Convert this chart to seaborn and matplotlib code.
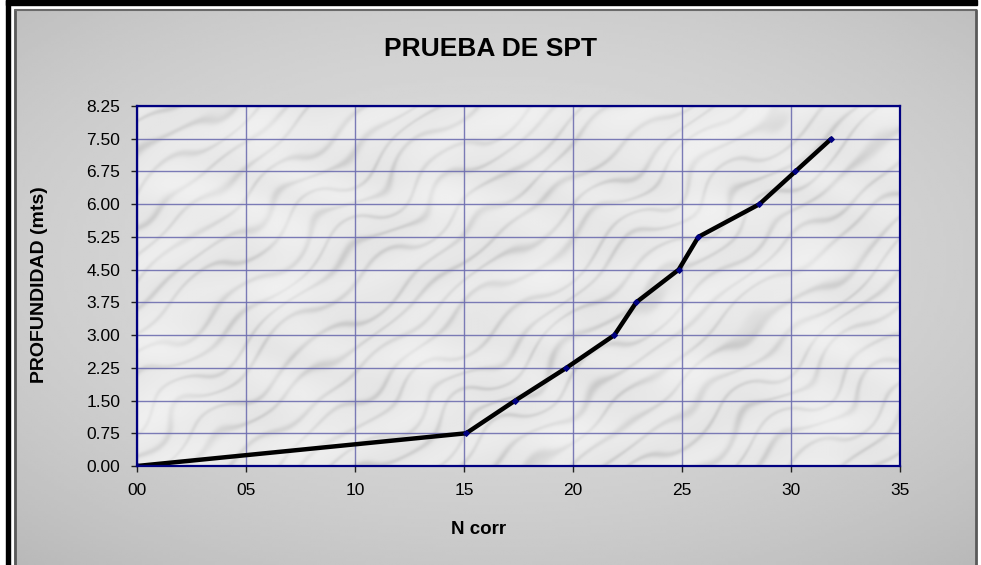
import numpy as np
import pandas as pd
import matplotlib
matplotlib.use("Agg")
import matplotlib.pyplot as plt
import seaborn as sns
from matplotlib.patches import Rectangle

# ---- data ----
n_corr = [0.0, 15.1, 17.35, 19.7, 21.9, 22.9, 24.85, 25.75, 28.55, 30.2, 31.85]
depth = [0.0, 0.75, 1.5, 2.25, 3.0, 3.75, 4.5, 5.25, 6.0, 6.75, 7.5]
x_ticks = [0, 5, 10, 15, 20, 25, 30, 35]
x_tick_labels = ["00", "05", "10", "15", "20", "25", "30", "35"]
y_ticks = [0.0, 0.75, 1.5, 2.25, 3.0, 3.75, 4.5, 5.25, 6.0, 6.75, 7.5, 8.25]
y_tick_labels = ["%.2f" % v for v in y_ticks]
title = "PRUEBA DE SPT"
x_label = "N corr"
y_label = "PROFUNDIDAD (mts)"

df = pd.DataFrame({"N": n_corr, "Prof": depth})

sns.set_style("white")
plt.rcParams["font.family"] = ["Liberation Sans", "DejaVu Sans"]
plt.rcParams["text.color"] = "black"

W, H = 981, 565
fig = plt.figure(figsize=(W / 100, H / 100), dpi=100)
fig.patch.set_facecolor("white")

# ---- background panel ----
bg = fig.add_axes([0, 0, 1, 1])
bg.set_xlim(0, W)
bg.set_ylim(H, 0)
bg.axis("off")
gy, gx = np.mgrid[0:1:200j, 0:1:300j]
grad = 0.86 - 0.09 * (np.abs(gx - 0.5) * 1.6) ** 2 - 0.08 * (np.abs(gy - 0.45) * 1.8) ** 2
bg.imshow(grad, extent=(14, 977, 565, 9), cmap="gray", vmin=0, vmax=1,
          aspect="auto", interpolation="bilinear", zorder=0)
bg.add_patch(Rectangle((6, 0), 4, H, color="black", zorder=2))
bg.add_patch(Rectangle((6, 0), 971, 5, color="black", zorder=2))
bg.plot([15, 15], [H, 10], color="#5a5a5a", lw=2, zorder=2)
bg.plot([15, 976], [10, 10], color="#6a6a6a", lw=1.5, zorder=2)
bg.plot([976, 976], [10, H], color="#5a5a5a", lw=2, zorder=2)

# ---- main axes ----
ax = fig.add_axes([137 / W, 1 - 466 / H, (900 - 137) / W, (466 - 106) / H])

# marble-like texture (decoration only): soft diagonal streaks
py, px = np.mgrid[0:360:240j, 0:763:500j]
warp = (9.0 * np.sin(px / 23.0 + np.sin(py / 31.0) * 1.7)
        + 7.0 * np.sin(py / 19.0 - px / 41.0)
        + 4.0 * np.sin(px / 9.0 + py / 13.0))
f = (px * 0.75 + py * 1.0 + warp) / 26.0
v = np.sin(f * 2 * np.pi / 2.2)
veins = np.exp(-(v / 0.32) ** 2)
blot = 0.5 + 0.5 * np.sin(px / 37.0 + 2.0 * np.sin(py / 27.0)) * np.sin(py / 23.0 + 1.5 * np.sin(px / 45.0))
tex = 0.94 - 0.11 * veins * (0.4 + 0.6 * blot) - 0.04 * blot
ax.imshow(tex, extent=(0, 35, 0, 8.25), cmap="gray", vmin=0, vmax=1,
          aspect="auto", interpolation="bicubic", zorder=0)

sns.lineplot(data=df, x="N", y="Prof", sort=False, estimator=None, ax=ax,
             color="black", linewidth=3.2, marker="D", markersize=3,
             markerfacecolor="#000080", markeredgecolor="#000080", zorder=3)

ax.set_xlim(0, 35)
ax.set_ylim(0, 8.25)
ax.set_xticks(x_ticks)
ax.set_xticklabels(x_tick_labels)
ax.set_yticks(y_ticks)
ax.set_yticklabels(y_tick_labels)
ax.grid(True, color="#6e6eb0", lw=1.0, alpha=0.9, zorder=1)
ax.set_axisbelow(False)
for line in ax.get_xgridlines() + ax.get_ygridlines():
    line.set_zorder(1)
for s in ax.spines.values():
    s.set_color("#000080")
    s.set_linewidth(1.6)
    s.set_zorder(4)
ax.tick_params(axis="both", direction="out", length=4, width=1, color="#202020",
               labelsize=12.5, labelcolor="black", pad=8)
ax.tick_params(axis="x", bottom=True)
ax.tick_params(axis="y", left=True)
ax.set_xlabel("")
ax.set_ylabel("")

fig.text(490 / W, 1 - 49 / H, title, ha="center", va="center",
         fontsize=19, fontweight="bold", color="black")
fig.text(40 / W, 1 - 285 / H, y_label, ha="center", va="center",
         rotation=90, fontsize=14, fontweight="bold", color="black")
fig.text(479 / W, 1 - 530 / H, x_label, ha="center", va="center",
         fontsize=13.5, fontweight="bold", color="black")

fig.savefig("out.png", dpi=100)
